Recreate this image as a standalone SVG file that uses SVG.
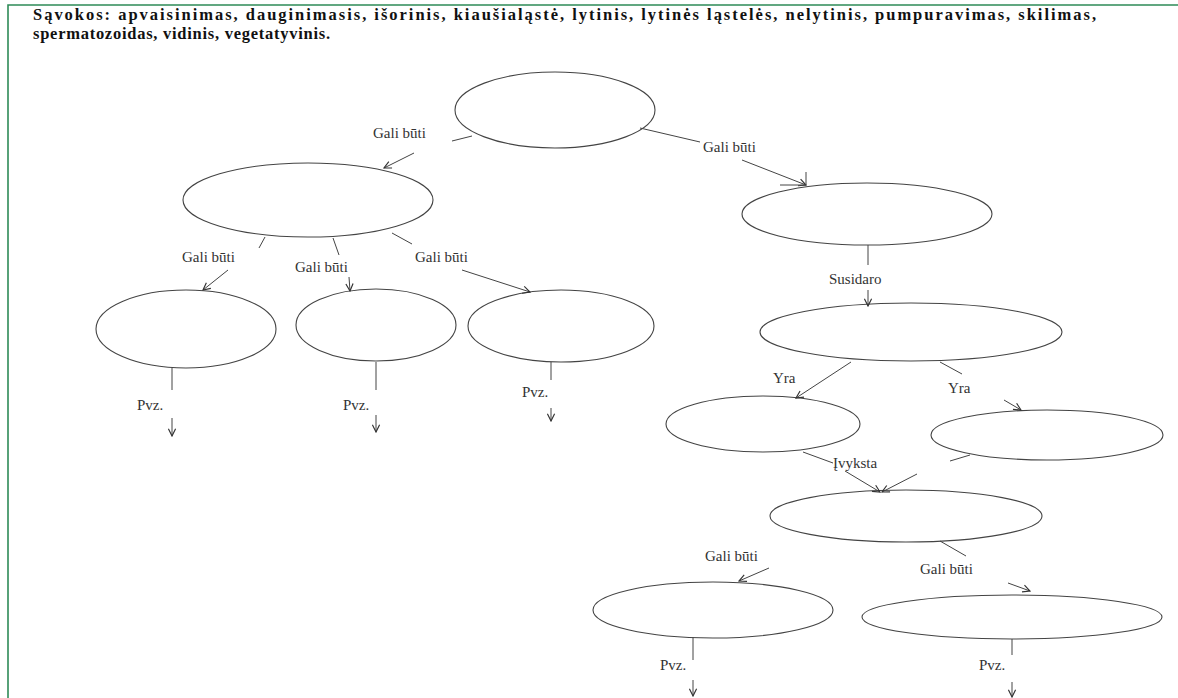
<svg xmlns="http://www.w3.org/2000/svg" width="1178" height="698" viewBox="0 0 1178 698">
<defs>
<marker id="arr" viewBox="0 0 10 10" refX="9" refY="5" markerWidth="9" markerHeight="9" markerUnits="userSpaceOnUse" orient="auto">
<path d="M1,1 L9,5 L1,9" fill="none" stroke="#333" stroke-width="1.3"/>
</marker>
<style>
.n{fill:#fff;stroke:#444;stroke-width:1.1}
.c{fill:none;stroke:#444;stroke-width:1}
.a{fill:none;stroke:#444;stroke-width:1;marker-end:url(#arr)}
.l{font-family:"Liberation Serif","DejaVu Serif",serif;font-size:15px;fill:#333}
.t{font-family:"Liberation Serif","Times New Roman",serif;font-size:16.5px;font-weight:bold;fill:#111}
</style>
</defs>
<rect x="0" y="0" width="1178" height="698" fill="#fff"/>
<path d="M8,698 L8,5 L1178,5" fill="none" stroke="#2e8b57" stroke-width="1.6"/>
<text class="t" x="33" y="20" textLength="1063" lengthAdjust="spacing">Sąvokos: apvaisinimas, dauginimasis, išorinis, kiaušialąstė, lytinis, lytinės ląstelės, nelytinis, pumpuravimas, skilimas,</text>
<text class="t" x="33" y="39" textLength="297" lengthAdjust="spacing">spermatozoidas, vidinis, vegetatyvinis.</text>

<g id="e1"><ellipse class="n" cx="555" cy="110" rx="100" ry="38"/></g>
<g id="e2"><ellipse class="n" cx="308" cy="200" rx="125" ry="37"/></g>
<g id="e3"><ellipse class="n" cx="867" cy="214" rx="125" ry="31"/></g>
<g id="e4"><ellipse class="n" cx="186" cy="329" rx="90" ry="39"/></g>
<g id="e5"><ellipse class="n" cx="376" cy="325" rx="80" ry="36"/></g>
<g id="e6"><ellipse class="n" cx="561" cy="326" rx="93" ry="36"/></g>
<g id="e7"><ellipse class="n" cx="911" cy="332" rx="151" ry="29"/></g>
<g id="e8"><ellipse class="n" cx="763" cy="424" rx="97" ry="28"/></g>
<g id="e9"><ellipse class="n" cx="1047" cy="435" rx="116" ry="25"/></g>
<g id="e10"><ellipse class="n" cx="906" cy="516" rx="136" ry="26"/></g>
<g id="e11"><ellipse class="n" cx="713" cy="610" rx="120" ry="28"/></g>
<g id="e12"><ellipse class="n" cx="1012" cy="617" rx="150" ry="22"/></g>

<g id="connectors">
<path class="c" d="M472,136 L452,141"/>
<path class="a" d="M414,153 L384,168"/>
<path class="c" d="M640,128 L700,142"/>
<path class="a" d="M742,160 L806,185"/>
<path class="c" d="M806,172 L806,185 L780,185"/>
<path class="c" d="M265,237 L259,248"/>
<path class="a" d="M228,270 L203,290"/>
<path class="c" d="M333,238 L339,255"/>
<path class="a" d="M349,277 L350,291"/>
<path class="c" d="M392,233 L412,244"/>
<path class="a" d="M462,270 L530,292"/>
<path class="c" d="M868,245 L868,265"/>
<path class="a" d="M868,290 L868,306"/>
<path class="a" d="M851,362 L796,398"/>
<path class="c" d="M940,362 L962,374"/>
<path class="a" d="M1004,400 L1021,410"/>
<path class="c" d="M803,452 L833,463"/>
<path class="a" d="M845,471 L880,492"/>
<path class="c" d="M970,455 L950,461"/>
<path class="a" d="M917,474 L882,492"/>
<path class="a" d="M769,568 L739,581"/>
<path class="c" d="M940,541 L966,556"/>
<path class="a" d="M1008,583 L1030,591"/>
<path class="c" d="M172,368 L172,390"/>
<path class="a" d="M172,418 L172,436"/>
<path class="c" d="M376,362 L376,390"/>
<path class="a" d="M376,415 L376,432"/>
<path class="c" d="M551,362 L551,380"/>
<path class="a" d="M551,408 L551,421"/>
<path class="c" d="M693,637 L693,660"/>
<path class="a" d="M693,680 L693,696"/>
<path class="c" d="M1012,639 L1012,655"/>
<path class="a" d="M1012,682 L1012,697"/>
</g>

<g id="labels">
<text class="l" x="373" y="138">Gali būti</text>
<text class="l" x="703" y="152">Gali būti</text>
<text class="l" x="182" y="262">Gali būti</text>
<text class="l" x="295" y="272">Gali būti</text>
<text class="l" x="415" y="262">Gali būti</text>
<text class="l" x="829" y="284">Susidaro</text>
<text class="l" x="773" y="383">Yra</text>
<text class="l" x="948" y="393">Yra</text>
<text class="l" x="833" y="468">Įvyksta</text>
<text class="l" x="705" y="561">Gali būti</text>
<text class="l" x="920" y="574">Gali būti</text>
<text class="l" x="137" y="410">Pvz.</text>
<text class="l" x="343" y="410">Pvz.</text>
<text class="l" x="522" y="397">Pvz.</text>
<text class="l" x="660" y="670">Pvz.</text>
<text class="l" x="979" y="670">Pvz.</text>
</g>
</svg>
